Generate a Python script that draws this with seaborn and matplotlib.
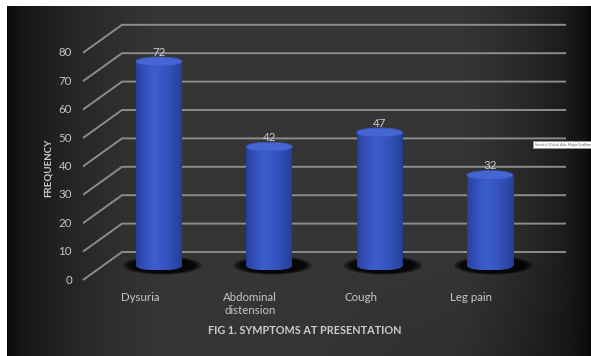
import numpy as np
import pandas as pd
import matplotlib
matplotlib.use("Agg")
import matplotlib.pyplot as plt
import seaborn as sns
from matplotlib.patches import Ellipse, Rectangle

# ---------------- data ----------------
categories = ["Dysuria", "Abdominal\ndistension", "Cough", "Leg pain"]
frequency = [72, 42, 47, 32]
y_ticks = [0, 10, 20, 30, 40, 50, 60, 70, 80]
title = "FIG 1. SYMPTOMS AT PRESENTATION"
y_label = "FREQUENCY"
tooltip = "Vertical (Value) Axis Major Gridlines"

# ---------------- figure ----------------
W, H, DPI = 591, 356, 100
sns.set_theme(style="white")
plt.rcParams['font.family'] = ['Lato', 'DejaVu Sans']

fig = plt.figure(figsize=(W / DPI, H / DPI), dpi=DPI, facecolor="white")
ax = fig.add_axes([0, 0, 1, 1])
ax.set_autoscale_on(False)

X0_PX, DX_PX = 159.0, 110.3     # pixel of first category centre, spacing
Y0_PX, PPU = 266.0, 2.84         # pixel of value 0 (bar base), pixels per unit
XLIM = ((0 - X0_PX) / DX_PX, (W - X0_PX) / DX_PX)
YLIM = (-(H - Y0_PX) / PPU, Y0_PX / PPU)


def xd(px):
    return (px - X0_PX) / DX_PX


# background with dark vignette
nx, ny = 600, 360
xs = np.linspace(7, W, nx)
ys = np.linspace(6, H, ny)
XX, YY = np.meshgrid(xs, ys)
left = np.clip((XX - 7) / 150, 0, 1) ** 0.5
right = np.clip((W - XX) / 130, 0, 1) ** 0.5
vert = 1 - 0.25 * np.clip((YY - 250) / 106, 0, 1) * (1 - np.clip((W - XX) / 300, 0, 1))
v = 0.025 + 0.185 * left * right * vert
bg = np.dstack([v, v, v])
ax.imshow(bg, extent=[7 / W, 1, 0, 1 - 6 / H], transform=ax.transAxes,
          aspect="auto", origin="upper", zorder=0, interpolation="bilinear")

# ---------------- 3D style gridlines ----------------
BACK_OFF = (Y0_PX - 252) / PPU
FRONT_OFF = (280 - Y0_PX) / PPU
for t in y_ticks:
    ax.plot([xd(83), xd(122), xd(566)],
            [t - FRONT_OFF, t + BACK_OFF, t + BACK_OFF],
            color="#8c8c8c", lw=1.4, zorder=1, solid_capstyle="butt")
    ax.text(xd(72), t - FRONT_OFF, str(t), ha="right", va="center",
            color="#c6c6c6", fontsize=8.3, zorder=5)

# ---------------- bars (cylinders) ----------------
df = pd.DataFrame({"symptom": categories, "frequency": frequency})
BAR_W = 46 / DX_PX
sns.barplot(data=df, x="symptom", y="frequency", ax=ax, width=BAR_W,
            color="#3858c6", saturation=1, linewidth=0, zorder=3,
            errorbar=None)
bars = list(ax.patches)

ELL_H = 9 / PPU
gx = np.linspace(0, 1, 64)[:, None]
c_edge_l = np.array([0.17, 0.28, 0.68])[None, :]
c_mid = np.array([0.24, 0.37, 0.81])[None, :]
c_edge_r = np.array([0.17, 0.27, 0.66])[None, :]
tl = np.clip(gx / 0.4, 0, 1)
tr = np.clip((gx - 0.4) / 0.6, 0, 1)
prof = np.where(gx < 0.4, tl * c_mid + (1 - tl) * c_edge_l,
                tr * c_edge_r + (1 - tr) * c_mid)
shade = np.sin(np.pi * gx) ** 0.3
prof = np.clip(prof * (0.85 + 0.15 * shade), 0, 1)
body_img = prof[None, :, :]

for p, val in zip(bars, frequency):
    x0, w, h = p.get_x(), p.get_width(), p.get_height()
    xc = x0 + w / 2
    # shadow
    for s in [1.22, 1.12, 1.05, 1.0]:
        ax.add_patch(Ellipse((xc + 0.03, 0.2), width=64 / DX_PX * s, height=15 / PPU * s,
                             facecolor="black", edgecolor="none", alpha=0.4, zorder=2))
    # body
    ax.imshow(body_img, extent=[x0, x0 + w, 0, h], aspect="auto", zorder=3.1,
              interpolation="bilinear")
    # bottom ellipse
    e_bot = Ellipse((xc, 0), width=w, height=ELL_H, facecolor="none", edgecolor="none")
    ax.add_patch(e_bot)
    im = ax.imshow(body_img, extent=[x0, x0 + w, -ELL_H / 2, 0.01], aspect="auto",
                   zorder=3.1, interpolation="bilinear")
    im.set_clip_path(e_bot)
    # top ellipse
    ax.add_patch(Ellipse((xc, h), width=w, height=ELL_H, facecolor="#4566d2",
                         edgecolor="#3756c0", lw=0.6, zorder=3.3))
    # value label
    ax.annotate(str(val), (xc, h), xytext=(0, 6.8), textcoords="offset points",
                ha="center", va="center", color="#cccccc", fontsize=8.3, zorder=6)

# ---------------- category labels ----------------
for i, cat in enumerate(categories):
    ax.annotate(cat, (i, 0), xytext=(-19 * 72 / DPI, -26 * 72 / DPI),
                textcoords="offset points", ha="center", va="top",
                color="#c6c6c6", fontsize=8.3, linespacing=1.25, zorder=6)

# ---------------- titles ----------------
ax.text(305 / W, 1 - 330 / H, title, transform=ax.transAxes, ha="center",
        va="center", color="#cccccc", fontsize=7.8, fontweight="bold", zorder=6)
ax.text(48 / W, 1 - 168 / H, y_label, transform=ax.transAxes, ha="center",
        va="center", rotation=90, color="#cccccc", fontsize=7, fontweight="bold",
        zorder=6)

# ---------------- tooltip ----------------
ax.add_patch(Rectangle((533 / W, 1 - 148 / H), 60 / W, 7 / H, transform=ax.transAxes,
                       facecolor="white", edgecolor="#9a9a9a", lw=0.5, zorder=7))
ax.text(535 / W, 1 - 144.5 / H, tooltip, transform=ax.transAxes, ha="left",
        va="center", fontsize=2.6, color="#555555", zorder=8, clip_on=False)

ax.set_xlim(*XLIM)
ax.set_ylim(*YLIM)
ax.axis("off")

fig.savefig("out.png", dpi=DPI, facecolor="white")
